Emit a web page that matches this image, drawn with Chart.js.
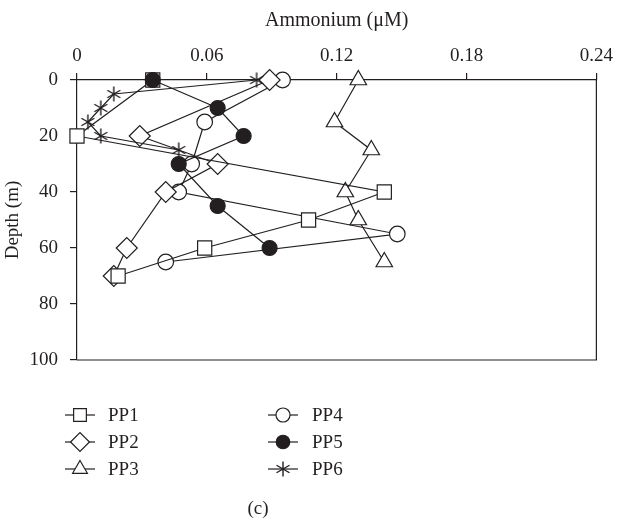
<!DOCTYPE html>
<html>
<head>
<meta charset="utf-8">
<script src="https://cdn.jsdelivr.net/npm/chart.js@4.4.1/dist/chart.umd.min.js"></script>
<style>
html,body{margin:0;padding:0;background:#fff;}
#wrap{width:619px;height:521px;position:relative;}
</style>
</head>
<body>
<div id="wrap"><canvas id="c" width="619" height="521"></canvas></div>
<script>
// ---- data (Ammonium µM vs depth m) ----
const seriesNames = ['PP1','PP2','PP3','PP4','PP5','PP6'];
const pp1Depth = [0, 20, 40, 50, 60, 70];
const pp1Value = [0.035, 0.000, 0.142, 0.107, 0.059, 0.019];
const pp2Depth = [0, 20, 30, 40, 60, 70];
const pp2Value = [0.089, 0.029, 0.065, 0.041, 0.023, 0.017];
const pp3Depth = [0, 15, 25, 40, 50, 65];
const pp3Value = [0.130, 0.119, 0.136, 0.124, 0.130, 0.142];
const pp4Depth = [0, 15, 30, 40, 55, 65];
const pp4Value = [0.095, 0.059, 0.053, 0.047, 0.148, 0.041];
const pp5Depth = [0, 10, 20, 30, 45, 60];
const pp5Value = [0.035, 0.065, 0.077, 0.047, 0.065, 0.089];
const pp6Depth = [0, 5, 10, 15, 20, 25];
const pp6Value = [0.083, 0.017, 0.011, 0.005, 0.011, 0.047];
const xTicks = [0, 0.06, 0.12, 0.18, 0.24];
const yTicks = [0, 20, 40, 60, 80, 100];
const xTitle = 'Ammonium (\u03bcM)';
const yTitle = 'Depth (m)';
const caption = '(c)';

const INK = '#231f20';
const FONT = "'Liberation Serif', 'Times New Roman', serif";

// six-armed asterisk marker
function makeAsterisk(){
  const s = 18, c = document.createElement('canvas');
  c.width = s; c.height = s;
  const g = c.getContext('2d');
  g.strokeStyle = INK; g.lineWidth = 1.4;
  const r = 7.5, m = s/2;
  g.beginPath();
  for (const a of [90, 30, -30]) {
    const rad = a*Math.PI/180;
    g.moveTo(m - r*Math.cos(rad), m - r*Math.sin(rad));
    g.lineTo(m + r*Math.cos(rad), m + r*Math.sin(rad));
  }
  g.stroke();
  return c;
}
const asterisk = makeAsterisk();

function pts(vals, deps){ return vals.map((v,i)=>({x:v, y:deps[i]})); }

const styles = [
  {pointStyle:'rect', radius:10, fill:'#fff'},
  {pointStyle:'rectRot', radius:10.5, fill:'#fff'},
  {pointStyle:'triangle', radius:9.5, fill:'#fff'},
  {pointStyle:'circle', radius:7.8, fill:'#fff'},
  {pointStyle:'circle', radius:7.5, fill:INK},
  {pointStyle:asterisk, radius:8, fill:'#fff'}
];
const drawOrder = [1, 2, 3, 4, -1, 0];
const allVals = [pp1Value,pp2Value,pp3Value,pp4Value,pp5Value,pp6Value];
const allDeps = [pp1Depth,pp2Depth,pp3Depth,pp4Depth,pp5Depth,pp6Depth];

const datasets = seriesNames.map((n,i)=>({
  label: n,
  data: pts(allVals[i], allDeps[i]),
  showLine: true,
  clip: false,
  order: drawOrder[i],
  borderColor: INK,
  borderWidth: 1.2,
  pointStyle: styles[i].pointStyle,
  pointRadius: styles[i].radius,
  pointHoverRadius: styles[i].radius,
  pointBackgroundColor: styles[i].fill,
  pointBorderColor: INK,
  pointBorderWidth: 1.2,
  tension: 0
}));

const framePlugin = {
  id: 'frame',
  afterDraw(chart){
    const ctx = chart.ctx, a = chart.chartArea;
    ctx.save();
    ctx.strokeStyle = INK; ctx.lineWidth = 1.2;
    ctx.beginPath();
    ctx.moveTo(a.left, a.bottom); ctx.lineTo(a.right, a.bottom); ctx.lineTo(a.right, a.top);
    ctx.stroke();
    // legend (two columns)
    const cols = [{mx:80, tx:108}, {mx:283, tx:312}];
    const rows = [415, 442, 469];
    ctx.font = '19px ' + FONT;
    ctx.fillStyle = INK;
    ctx.textBaseline = 'middle';
    ctx.textAlign = 'left';
    seriesNames.forEach((n,i)=>{
      const col = cols[Math.floor(i/3)], y = rows[i%3];
      ctx.strokeStyle = INK; ctx.lineWidth = 1.2;
      ctx.beginPath(); ctx.moveTo(col.mx-15, y); ctx.lineTo(col.mx+15, y); ctx.stroke();
      ctx.fillStyle = styles[i].fill;
      ctx.strokeStyle = INK;
      Chart.helpers.drawPoint(ctx, {pointStyle: styles[i].pointStyle, radius: styles[i].radius*0.9, borderWidth:1.2, rotation:0}, col.mx, y);
      ctx.fillStyle = INK;
      ctx.fillText(n, col.tx, y+1);
    });
    ctx.textAlign = 'center';
    ctx.fillText(caption, 258, 509);
    ctx.restore();
  }
};

new Chart(document.getElementById('c'), {
  type: 'scatter',
  data: { datasets },
  plugins: [framePlugin],
  options: {
    responsive: false,
    animation: false,
    devicePixelRatio: 1,
    layout: { padding: { left: 0, top: 0, right: 20, bottom: 161 } },
    plugins: { legend: { display: false }, tooltip: { enabled: false } },
    scales: {
      x: {
        type: 'linear', position: 'top', min: 0, max: 0.24,
        afterFit(s){ s.height = 80; },
        afterBuildTicks(s){ s.ticks = xTicks.map(v=>({value:v})); },
        ticks: {
          color: INK, padding: 6,
          font: { family: FONT, size: 19 },
          callback: v => String(Number(v.toFixed(2)))
        },
        grid: { drawOnChartArea: false, drawTicks: true, tickLength: 7, color: INK, lineWidth: 1.2 },
        border: { display: true, color: INK, width: 1.2 },
        title: { display: true, text: xTitle, color: INK, font: { family: FONT, size: 20 }, padding: { top: 9, bottom: 0 } }
      },
      y: {
        type: 'linear', position: 'left', reverse: true, min: 0, max: 100,
        afterFit(s){ s.width = 77; },
        afterBuildTicks(s){ s.ticks = yTicks.map(v=>({value:v})); },
        ticks: { color: INK, padding: 12, font: { family: FONT, size: 19 } },
        grid: { drawOnChartArea: false, drawTicks: true, tickLength: 7, color: INK, lineWidth: 1.2 },
        border: { display: true, color: INK, width: 1.2 },
        title: { display: true, text: yTitle, color: INK, font: { family: FONT, size: 19 }, padding: { top: 2, bottom: 0 } }
      }
    }
  }
});
</script>
</body>
</html>
